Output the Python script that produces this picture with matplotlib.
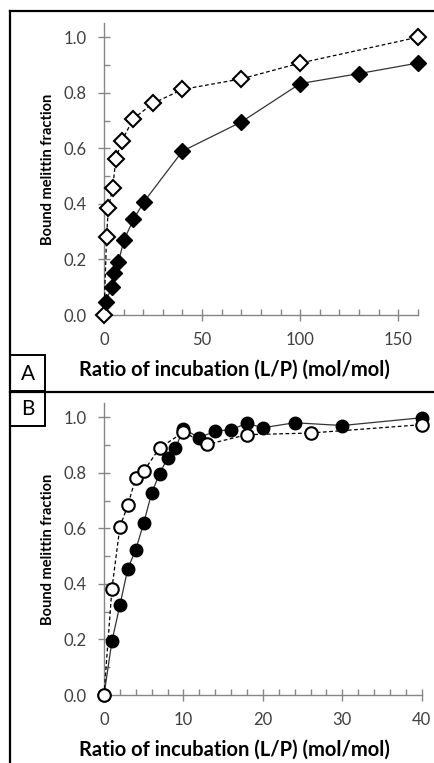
import matplotlib
matplotlib.use('Agg')
import matplotlib.pyplot as plt
from matplotlib.ticker import MultipleLocator, FormatStrFormatter
from matplotlib.lines import Line2D
from matplotlib.patches import Rectangle

# --- data, panel A ---
a_open_x = [0, 1.3, 2.2, 4.4, 6, 9, 15, 25, 40, 70, 100, 160]
a_open_y = [0.0, 0.28, 0.384, 0.456, 0.56, 0.626, 0.707, 0.762, 0.812, 0.85, 0.907, 1.0]
a_fill_x = [1, 3.9, 5.3, 7.3, 10.2, 15, 20.4, 40, 70, 100, 130, 160]
a_fill_y = [0.048, 0.102, 0.15, 0.19, 0.27, 0.344, 0.408, 0.59, 0.695, 0.833, 0.869, 0.907]

# --- data, panel B ---
b_fill_x = [0, 1, 2, 3, 4, 5, 6, 7, 8, 9, 10, 12, 14, 16, 18, 20, 24, 30, 40]
b_fill_y = [0.0, 0.194, 0.323, 0.455, 0.523, 0.619, 0.727, 0.797, 0.853, 0.889, 0.958,
            0.926, 0.95, 0.955, 0.978, 0.962, 0.98, 0.97, 0.998]
b_open_x = [0, 1, 2, 3, 4, 5, 7, 10, 13, 18, 26, 40]
b_open_y = [0.0, 0.383, 0.605, 0.683, 0.782, 0.806, 0.889, 0.946, 0.902, 0.937, 0.943, 0.973]

XLABEL = 'Ratio of incubation (L/P) (mol/mol)'
YLABEL = 'Bound melittin fraction'

FONT = ['Lato', 'DejaVu Sans']
TXT = '#404040'
AXC = '#868686'

W, H = 435, 763
fig = plt.figure(figsize=(W / 100, H / 100), dpi=100)


def fx(px):
    return px / W


def fy(py):
    return 1 - py / H


def style_axes(ax, xmax, xmaj, xmin):
    ax.set_xlim(0, xmax)
    ax.set_ylim(0, 1.05)
    for s in ['top', 'right']:
        ax.spines[s].set_visible(False)
    for s in ['left', 'bottom']:
        ax.spines[s].set_color(AXC)
        ax.spines[s].set_linewidth(1.0)
    ax.xaxis.set_major_locator(MultipleLocator(xmaj))
    ax.xaxis.set_minor_locator(MultipleLocator(xmin))
    ax.yaxis.set_major_locator(MultipleLocator(0.2))
    ax.yaxis.set_minor_locator(MultipleLocator(0.1))
    ax.yaxis.set_major_formatter(FormatStrFormatter('%.1f'))
    ax.tick_params(which='major', direction='inout', length=9, width=1, color=AXC,
                   labelsize=12, labelcolor=TXT)
    ax.tick_params(axis='x', which='major', pad=7.5)
    ax.tick_params(axis='y', which='major', pad=8)
    ax.tick_params(which='minor', direction='in', length=4, width=1, color=AXC)
    for lab in ax.get_xticklabels() + ax.get_yticklabels():
        lab.set_family(FONT)
    ax.set_facecolor('none')


# panel A
axA = fig.add_axes([fx(104), fy(315), fx(418 - 104), (315 - 23.3) / H])
style_axes(axA, 160, 50, 10)
axA.plot(a_open_x, a_open_y, color='black', lw=0.9, ls=(0, (3, 2)), marker='D',
         ms=8, mfc='white', mec='black', mew=1.5, clip_on=False, zorder=3)
axA.plot(a_fill_x, a_fill_y, color='#333333', lw=0.9, ls='-', marker='D',
         ms=8, mfc='black', mec='black', mew=1.0, clip_on=False, zorder=4)

# panel B
axB = fig.add_axes([fx(104), fy(695), fx(421.7 - 104), (695 - 403.3) / H])
style_axes(axB, 40, 10, 2)
axB.plot(b_fill_x, b_fill_y, color='#333333', lw=0.9, ls='-', marker='o',
         ms=9, mfc='black', mec='black', mew=1.0, clip_on=False, zorder=3)
axB.plot(b_open_x, b_open_y, color='black', lw=0.9, ls=(0, (3, 2)), marker='o',
         ms=9, mfc='white', mec='black', mew=1.5, clip_on=False, zorder=4)

# axis labels
for xl_y in [370, 750]:
    fig.text(fx(234), fy(xl_y), XLABEL, ha='center', va='center', fontsize=14.5,
             fontweight='bold', color='black', family=FONT)
for yl_y in [169, 549]:
    fig.text(fx(48), fy(yl_y), YLABEL, ha='center', va='center', rotation=90,
             fontsize=10.5, fontweight='bold', color='black', family=FONT)

# frame lines and panel boxes
frame = dict(color='black', lw=1.6, transform=fig.transFigure, zorder=10)
fig.add_artist(Line2D([fx(10), fx(10)], [fy(10.5), 0], **frame))
fig.add_artist(Line2D([fx(10), 1], [fy(10.5), fy(10.5)], **frame))
fig.add_artist(Line2D([fx(10), 1], [fy(391.5), fy(391.5)], **frame))
fig.add_artist(Rectangle((fx(10), fy(391.5)), fx(35), (391.5 - 355) / H, fill=False,
                         ec='black', lw=1.4, transform=fig.transFigure, zorder=10))
fig.add_artist(Rectangle((fx(10), fy(426)), fx(35), (426 - 391.5) / H, fill=False,
                         ec='black', lw=1.4, transform=fig.transFigure, zorder=10))
fig.text(fx(28), fy(374), 'A', ha='center', va='center', fontsize=15, color='black', family=FONT)
fig.text(fx(28), fy(409), 'B', ha='center', va='center', fontsize=15, color='black', family=FONT)

fig.savefig('out.png', dpi=100)
